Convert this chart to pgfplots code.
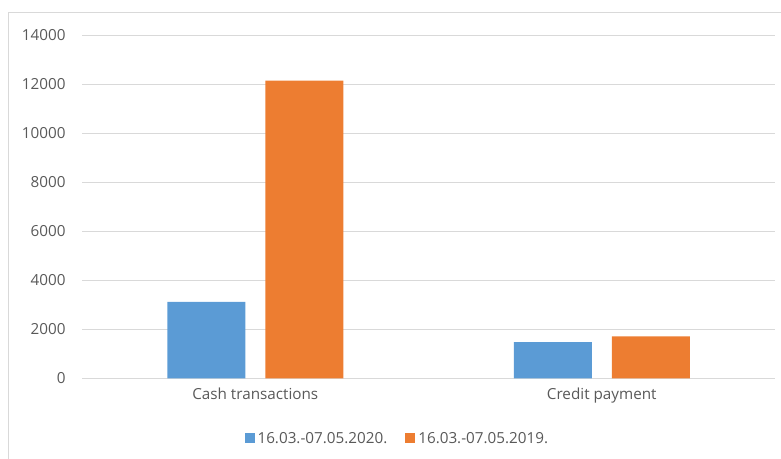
\documentclass[border=0pt]{standalone}
\usepackage{pgfplots}
\pgfplotsset{compat=1.18}
\usepackage{fontspec}
\setmainfont{Open Sans}
\definecolor{txt}{HTML}{595959}
\definecolor{gridc}{HTML}{D9D9D9}
\definecolor{bluebar}{HTML}{5B9BD5}
\definecolor{orangebar}{HTML}{ED7D31}
\begin{document}
\begin{tikzpicture}[x=1bp,y=1bp]
\useasboundingbox (0,0) rectangle (781,459);
\draw[gridc, line width=1bp] (8,-20) rectangle (800,446);
\begin{axis}[
  at={(82bp,80.7bp)}, anchor=south west,
  scale only axis, width=693bp, height=343.3bp,
  xmin=-0.5, xmax=1.5, ymin=0, ymax=14000,
  axis line style={draw=none},
  ymajorgrids, grid style={gridc, line width=0.8bp},
  ytick={0,2000,...,14000},
  xtick={0,1}, xticklabels={Cash transactions, Credit payment},
  major tick length=0pt,
  tick label style={font=\fontsize{15.3}{18}\selectfont, text=txt},
  yticklabel style={/pgf/number format/assume math mode=true},
  scaled y ticks=false,
  yticklabel={\pgfmathprintnumber[fixed,1000 sep={}]{\tick}},
  yticklabel style={anchor=east, xshift=-13bp},
  xticklabel style={anchor=north, yshift=-6bp},
  ybar, bar width=78bp,
  legend style={at={(0.455,-0.175)}, anchor=center, draw=none,
    legend columns=2, font=\fontsize{15.3}{18}\selectfont, text=txt,
    /tikz/every odd column/.append style={column sep=1bp},
    /tikz/every even column/.append style={column sep=16bp}},
  legend image code/.code={\fill[#1] (0bp,-5bp) rectangle (10bp,5bp);},
]
\addplot[fill=bluebar, draw=none, bar shift=-49bp] coordinates {(0,3120) (1,1480)};
\addplot[fill=orangebar, draw=none, bar shift=49bp] coordinates {(0,12140) (1,1710)};
\legend{16.03.-07.05.2020., 16.03.-07.05.2019.}
\end{axis}
\end{tikzpicture}
\end{document}
